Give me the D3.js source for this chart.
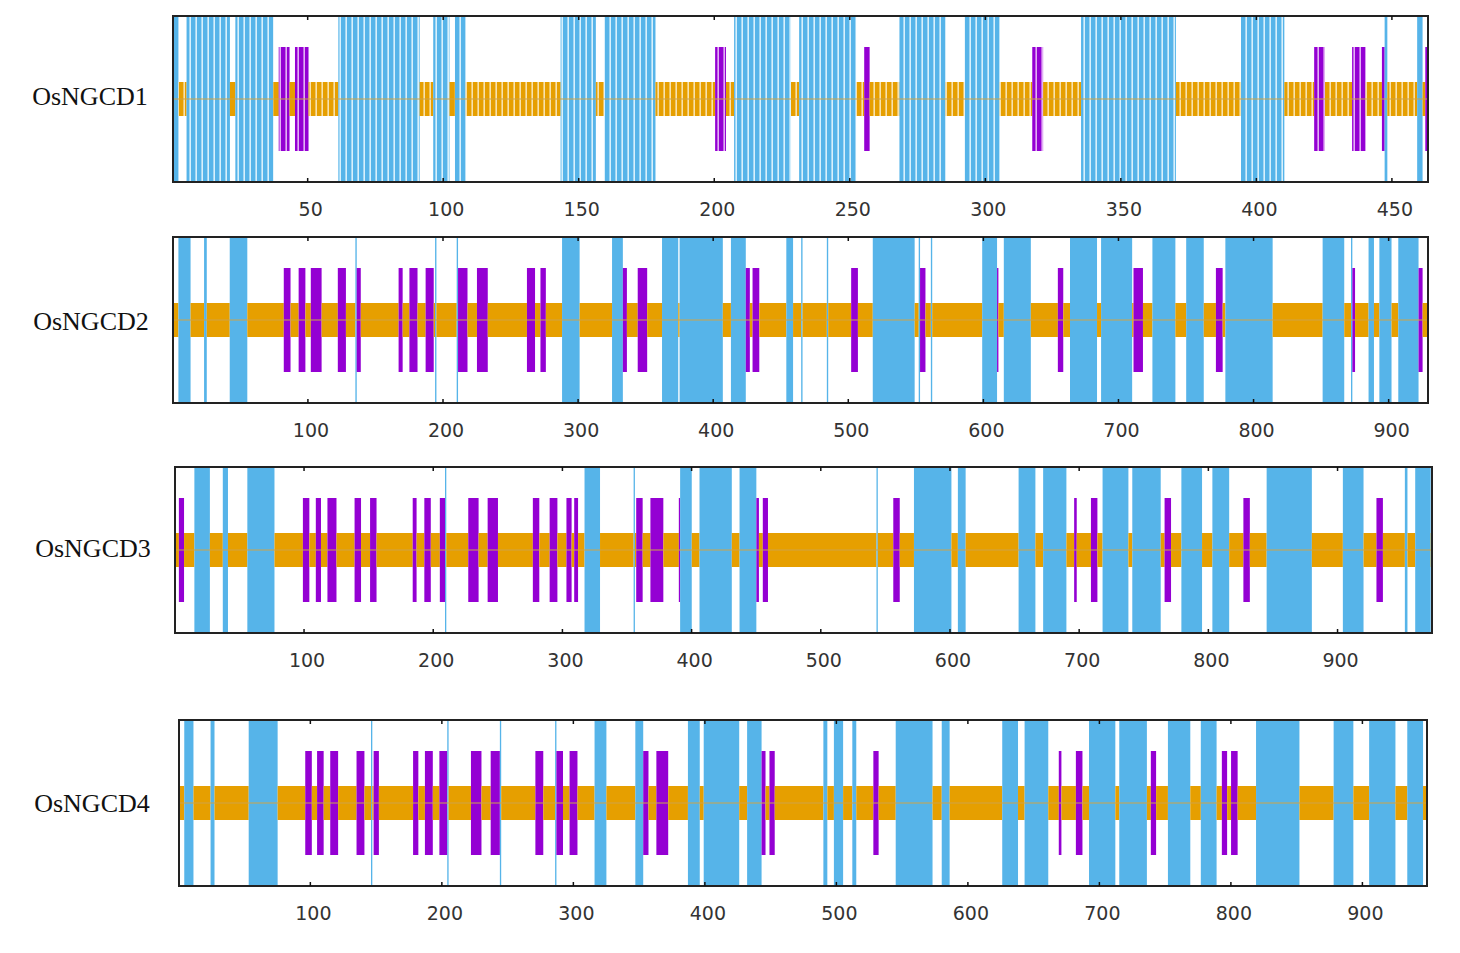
<!DOCTYPE html>
<html>
<head>
<meta charset="utf-8">
<script src="https://cdnjs.cloudflare.com/ajax/libs/d3/7.8.5/d3.min.js"></script>
<style>
body { margin: 0; background: #fff; }
</style>
</head>
<body>
<div id="chart"></div>
<script>
// protein names and sequence lengths
var names = ["OsNGCD1", "OsNGCD2", "OsNGCD3", "OsNGCD4"];
var lengths = [463, 929, 973, 949];

// alpha helix ranges (residue start, end)
var helix1 = [[1,2],[6,21],[24,37],[62,91],[97,102],[105,108],[144,156],[160,178],[208,228],[232,252],
              [269,285],[293,305],[336,370],[395,410],[448,448],[460,461]];
var helix2 = [[5,13],[24,25],[43,55],[136,136],[195,195],[211,211],[289,301],[326,333],[363,374],[376,407],
              [414,424],[455,459],[466,466],[485,485],[519,549],[553,553],[562,562],[600,610],[616,635],
              [665,684],[688,710],[726,742],[751,763],[780,814],[852,867],[873,873],[886,889],[894,902],[908,922]];
var helix3 = [[16,27],[38,41],[57,77],[210,210],[318,329],[356,356],[392,400],[407,431],[438,450],[544,544],
              [573,601],[607,612],[654,666],[673,690],[719,738],[742,763],[780,795],[804,816],[846,880],
              [905,920],[953,954],[961,972]];
var helix4 = [[5,11],[25,27],[54,75],[147,147],[205,205],[245,245],[287,287],[317,325],[348,353],[388,396],
              [400,426],[433,443],[491,493],[499,505],[513,515],[546,573],[581,586],[627,638],[644,661],
              [693,712],[716,736],[753,769],[778,789],[820,852],[879,893],[906,925],[935,946]];

// extended strand ranges
var strand1 = [[40,43],[46,50],[201,204],[256,257],[318,321],[422,425],[436,440],[447,447],[463,463]];
var strand2 = [[83,87],[94,98],[103,110],[123,128],[137,139],[168,170],[176,181],[188,193],[212,218],
               [226,233],[263,268],[273,276],[334,336],[345,351],[425,427],[430,434],[503,507],[554,557],
               [611,611],[656,659],[712,718],[773,777],[874,875],[923,925]];
var strand3 = [[4,7],[100,104],[110,113],[119,125],[140,144],[152,156],[185,187],[194,198],[206,209],
               [228,235],[243,250],[278,282],[291,296],[304,307],[310,312],[358,362],[369,378],[391,391],
               [451,452],[456,459],[557,561],[697,698],[710,714],[767,771],[828,832],[931,935]];
var strand4 = [[97,101],[106,110],[116,121],[136,141],[149,152],[179,182],[188,193],[199,204],[223,230],
               [238,244],[272,277],[288,292],[298,303],[354,357],[364,372],[444,446],[450,453],[529,532],
               [670,671],[683,687],[740,743],[794,797],[801,805]];

// tick labels
var ticks1 = [50,100,150,200,250,300,350,400,450];
var ticksLong = [100,200,300,400,500,600,700,800,900];

var helices = [helix1, helix2, helix3, helix4];
var strands = [strand1, strand2, strand3, strand4];
var tickSets = [ticks1, ticksLong, ticksLong, ticksLong];

var width = 1460;
var height = 953;
var boxH = 166;

var svg = d3.select("#chart")
    .append("svg")
    .attr("width", width)
    .attr("height", height);

// panel placement
var layout = [
    {top: 16,  x0: 173, x1: 1428, lx: 90, ly: 80, striped: true},
    {top: 237, x0: 173, x1: 1428, lx: 91, ly: 84, striped: false},
    {top: 467, x0: 175, x1: 1432, lx: 93, ly: 81, striped: false},
    {top: 720, x0: 179, x1: 1427, lx: 92, ly: 83, striped: false}
];

var colors = {h: "#56b4e9", c: "#e69f00", e: "#9400d3"};
var tints = {h: "#d8f0fc", c: "#f8e2ad", e: "#e2b0f4"};
var band = {h: [0, boxH], c: [66, 100], e: [31, 135]};

// striped fills for the short protein (the picture shows a coarse stripe texture)
var defs = svg.append("defs");
Object.keys(colors).forEach(function (k) {
    var pat = defs.append("pattern")
        .attr("id", "stripe-" + k)
        .attr("patternUnits", "userSpaceOnUse")
        .attr("x", 173)
        .attr("width", 6)
        .attr("height", 10);
    pat.append("rect").attr("width", 6).attr("height", 10).attr("fill", tints[k]);
    pat.append("rect").attr("width", 4.4).attr("height", 10).attr("fill", colors[k]);
});

function residueStates(len, helix, strand) {
    var s = [];
    for (var r = 1; r <= len; r++) s[r] = "c";
    helix.forEach(function (d) { for (var r = d[0]; r <= d[1]; r++) s[r] = "h"; });
    strand.forEach(function (d) { for (var r = d[0]; r <= d[1]; r++) s[r] = "e"; });
    return s;
}

function toRuns(s, len) {
    var out = [];
    var start = 1;
    for (var r = 2; r <= len + 1; r++) {
        if (r > len || s[r] !== s[start]) {
            out.push({type: s[start], a: start, b: r - 1});
            start = r;
        }
    }
    return out;
}

layout.forEach(function (p, i) {
    var len = lengths[i];
    var g = svg.append("g").attr("transform", "translate(0," + p.top + ")");
    var x = d3.scaleLinear().domain([0.5, len + 0.5]).range([p.x0, p.x1]);

    var s = residueStates(len, helices[i], strands[i]);
    var runs = toRuns(s, len);

    g.selectAll("rect.run")
        .data(runs)
        .enter().append("rect")
        .attr("class", "run")
        .attr("x", function (d) { return x(d.a - 0.5); })
        .attr("width", function (d) { return x(d.b + 0.5) - x(d.a - 0.5); })
        .attr("y", function (d) { return band[d.type][0]; })
        .attr("height", function (d) { return band[d.type][1] - band[d.type][0]; })
        .attr("fill", function (d) {
            if (!p.striped) return colors[d.type];
            // a run narrower than one stripe stays solid
            return (x(d.b + 0.5) - x(d.a - 0.5)) < 6 ? colors[d.type] : "url(#stripe-" + d.type + ")";
        });

    // centre line
    g.append("line")
        .attr("x1", p.x0).attr("x2", p.x1)
        .attr("y1", 83).attr("y2", 83)
        .attr("stroke", "#cda448")
        .attr("stroke-width", 1.2);

    // frame
    g.append("rect")
        .attr("x", p.x0).attr("y", 0)
        .attr("width", p.x1 - p.x0).attr("height", boxH)
        .attr("fill", "none")
        .attr("stroke", "#222")
        .attr("stroke-width", 2);

    // axis labels below
    var axis = g.append("g")
        .attr("transform", "translate(0," + boxH + ")")
        .call(d3.axisBottom(x).tickValues(tickSets[i]).tickSize(-4).tickPadding(21));
    axis.select(".domain").remove();
    axis.selectAll("line").attr("stroke", "#111").attr("stroke-width", 1.5);
    axis.selectAll("text")
        .attr("dx", 3)
        .attr("fill", "#333")
        .style("font-family", "DejaVu Sans, Verdana, sans-serif")
        .style("font-size", "19px");

    // small ticks on the top edge
    var axisT = g.append("g")
        .call(d3.axisTop(x).tickValues(tickSets[i]).tickSize(-4).tickFormat(""));
    axisT.select(".domain").remove();
    axisT.selectAll("line").attr("stroke", "#111").attr("stroke-width", 1.5);

    // protein name
    g.append("text")
        .text(names[i])
        .attr("x", p.lx)
        .attr("y", p.ly)
        .attr("text-anchor", "middle")
        .attr("dominant-baseline", "central")
        .style("font-family", "Liberation Serif, Times New Roman, serif")
        .style("font-size", "26px")
        .attr("fill", "#111");
});
</script>
</body>
</html>
